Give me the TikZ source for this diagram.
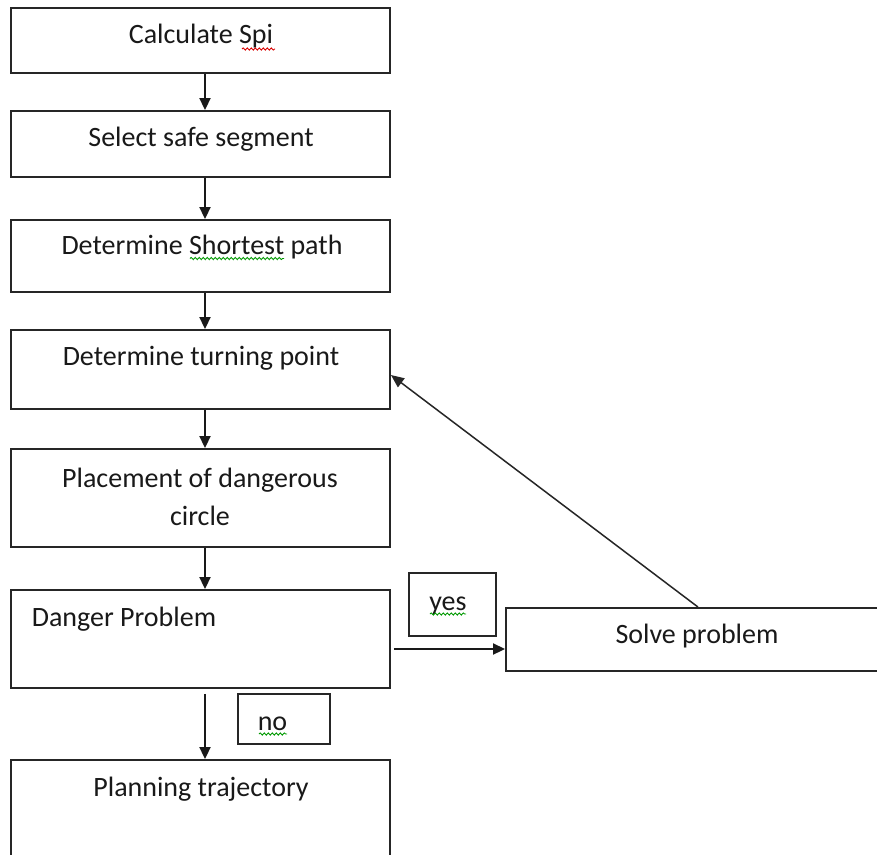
\documentclass[tikz,border=0pt]{standalone}
\usepackage{fontspec}
\setmainfont{Carlito}
\usetikzlibrary{arrows.meta,decorations.pathmorphing}
\begin{document}
\begin{tikzpicture}[x=1pt,y=-1pt,
  box/.style={draw=black!85,line width=1.9pt,rectangle,inner sep=0pt},
  lbl/.style={anchor=base,inner sep=0pt,font=\fontsize{28}{38}\selectfont,text=black!90},
  arr/.style={draw=black!90,line width=1.9pt,-{Triangle[length=12pt,width=11pt]}},
  thinarr/.style={draw=black!85,line width=1.5pt,-{Triangle[length=13pt,width=11pt]}},
  redwave/.style={draw=red!85!black,line width=0.9pt,decorate,decoration={snake,amplitude=1.1pt,segment length=4pt}},
  greenwave/.style={draw=green!60!black,line width=0.9pt,decorate,decoration={snake,amplitude=1.1pt,segment length=4pt}}]
\useasboundingbox (0,0) rectangle (877,854);
\clip (0,0) rectangle (877,854);
\fill[white] (0,0) rectangle (877,854);

% process boxes
\node[box,minimum width=379pt,minimum height=65pt] (b1) at (200.5,40.5) {};
\node[box,minimum width=379pt,minimum height=66pt] (b2) at (200.5,144) {};
\node[box,minimum width=379pt,minimum height=72pt] (b3) at (200.5,256) {};
\node[box,minimum width=379pt,minimum height=79pt] (b4) at (200.5,369.5) {};
\node[box,minimum width=379pt,minimum height=98pt] (b5) at (200.5,498) {};
\node[box,minimum width=379pt,minimum height=98pt] (b6) at (200.5,639) {};
\node[box,minimum width=379pt,minimum height=130pt] (b7) at (200.5,825) {};
\node[box,minimum width=374pt,minimum height=63pt] (solve) at (693,639.5) {};
\node[box,minimum width=87pt,minimum height=63pt] (yesbox) at (452.5,604.5) {};
\node[box,minimum width=92pt,minimum height=50pt] (nobox) at (284,719) {};

% texts
\node[lbl] (t1) at (201,43.5) {Calculate Spi};
\node[lbl] (t2) at (201,146) {Select safe segment};
\node[lbl] (t3) at (202,254) {Determine Shortest path};
\node[lbl] (t4) at (201,365) {Determine turning point};
\node[lbl] (t5a) at (200,487) {Placement of dangerous};
\node[lbl] (t5b) at (200,525) {circle};
\node[lbl] (t6) at (124,626) {Danger Problem};
\node[lbl] (t7) at (201,796) {Planning trajectory};
\node[lbl] (ts) at (697,643) {Solve problem};
\node[lbl] (ty) at (448,610) {yes};
\node[lbl] (tn) at (272.5,730) {no};

% spelling marks
\draw[redwave] (242,49) -- (275,49);
\draw[greenwave] (190,258.5) -- (284,258.5);
\draw[greenwave] (430,614) -- (466,614);
\draw[greenwave] (259,734) -- (287,734);

% connectors
\draw[arr] ([xshift=4.5pt]b1.south) -- ([xshift=4.5pt]b2.north);
\draw[arr] ([xshift=4.5pt]b2.south) -- ([xshift=4.5pt]b3.north);
\draw[arr] ([xshift=4.5pt]b3.south) -- ([xshift=4.5pt]b4.north);
\draw[arr] ([xshift=4.5pt]b4.south) -- ([xshift=4.5pt]b5.north);
\draw[arr] ([xshift=4.5pt]b5.south) -- ([xshift=4.5pt]b6.north);
\draw[arr] ([xshift=4.5pt,yshift=-5pt]b6.south) -- ([xshift=4.5pt]b7.north);
\draw[arr] ([xshift=3pt,yshift=-10pt]b6.east) -- ([yshift=-9.5pt]solve.west);
\draw[thinarr] ([xshift=5pt]solve.north) -- ([yshift=-5.5pt]b4.east);
\end{tikzpicture}
\end{document}
